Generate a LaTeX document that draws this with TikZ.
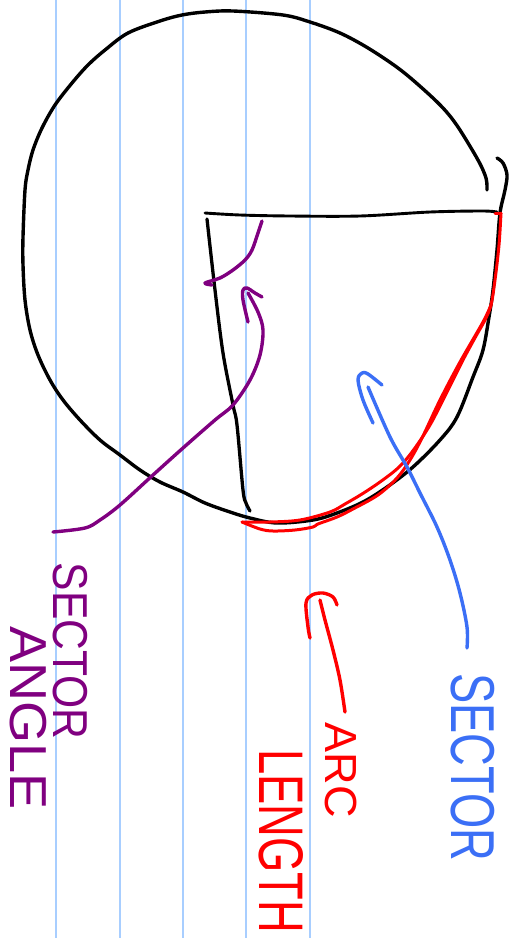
\documentclass[tikz,border=0pt]{standalone}
\usepackage{fontspec}
\usepackage{graphicx}
\setmainfont{Liberation Sans}
\definecolor{ruled}{RGB}{168,206,255}
\definecolor{penblue}{RGB}{59,111,246}
\definecolor{penpurple}{RGB}{128,0,128}
\definecolor{penred}{RGB}{255,0,0}
\tikzset{
  ink/.style={line width=3.4pt, line cap=round, line join=round},
  ruleline/.style={ruled, line width=2pt},
  label/.style={rotate=-90, inner sep=0pt, anchor=center},
  sm/.style={smooth, tension=0.55}
}
\begin{document}
\begin{tikzpicture}[x=1pt,y=-1pt]
\useasboundingbox (0,0) rectangle (517,938);
\fill[white] (0,0) rectangle (517,938);
% notebook lines
\foreach \xx in {56,119.5,183,246,309.5}
  \draw[ruleline] (\xx,0) -- (\xx,938);

% circle (hand drawn, open at upper right)
\draw[ink, black] plot[sm] coordinates {
(487,190) (486,178) (478,160) (458,127) (443,108) (422,88) (398,68) (368,48)
(340,33) (310,22) (283,15) (233,11) (205,12) (182,15) (160,21) (128,33)
(105,50) (88,65) (72,83) (55,105) (42,128) (33,150) (28,170) (25,190)
(23,237) (23,265) (25,300) (30,330) (38,355) (50,380) (63,400) (80,420)
(100,440) (120,455) (140,470) (160,482) (183,492) (205,503) (230,512)
(250,518) (277,523) (313,520) (337,513) (363,502) (387,487) (413,467)
(440,440) (457,417) (473,377) (483,350) (489,317) (493,290) (497,250)
(500,213) (505,190) (507,175) (503,163) (497,158)};

% radii
\draw[line width=2.9pt, line cap=round] plot[sm] coordinates {
(205,213) (240,215) (290,216) (360,216) (430,212) (482,211) (497,212)};
\draw[line width=3.3pt, line cap=round] plot[sm] coordinates {
(207,219) (215,290) (223,353) (233,405) (237,425) (243,490) (246,503) (250,511)};

% red arc length
\draw[ink, penred, line width=3pt] (495,213) -- (501,213);
\draw[ink, penred, line width=3pt] plot[sm] coordinates {
(501,213) (499,245) (495,280) (491,305) (485,320) (476,336) (463,360)
(447,392) (430,425) (412,452) (398,468) (380,482) (362,494) (345,504)
(330,512) (300,520) (270,522) (242,522)};
\draw[ink, penred, line width=3pt] plot[sm] coordinates {
(242,522) (260,529) (273,531) (295,530) (313,527) (318,524) (337,517)
(353,509) (378,495) (397,478) (410,460) (422,438) (440,400) (460,362)
(483,322) (491,305)};

% purple angle arc
\draw[ink, penpurple] plot[sm] coordinates {
(262,221) (258,233) (252,250) (245,260) (233,270) (220,278) (205,283) (212,285)};
% purple arrow
\draw[ink, penpurple] plot[sm] coordinates {
(53,532) (85,528) (100,520) (120,505) (153,475) (183,448) (215,420)
(233,405) (250,380) (260,355) (263,330) (258,312) (248,293)};
\draw[ink, penpurple] plot[sm] coordinates {
(248,322) (243,300) (243,290) (247,288) (255,293) (262,297)};

% blue arrow
\draw[ink, penblue] plot[sm] coordinates {
(467,648) (467,627) (460,593) (450,560) (437,527) (420,493) (407,467)
(390,437) (368,387)};
\draw[ink, penblue] plot[sm] coordinates {
(373,423) (363,400) (358,380) (362,373) (368,374) (382,385)};

% red arrow
\draw[ink, penred] plot[sm] coordinates {
(345,712) (340,680) (333,650) (325,620) (320,600)};
\draw[ink, penred] plot[sm] coordinates {
(337,605) (333,597) (323,593) (312,595) (306,603) (308,627) (310,638)};

% labels
\node[label, penblue, font=\fontsize{62}{62}\selectfont] (sector) at (473,767)
  {\scalebox{0.73}[1]{SECTOR}};
\node[label, penred, font=\fontsize{45}{45}\selectfont] (arc) at (341,770)
  {\scalebox{1.0}[1]{ARC}};
\node[label, penred, font=\fontsize{63}{63}\selectfont] (length) at (281,841)
  {\scalebox{0.72}[1]{LENGTH}};
\node[label, penpurple, font=\fontsize{49}{49}\selectfont] (sangle1) at (70,651)
  {\scalebox{0.87}[1]{SECTOR}};
\node[label, penpurple, font=\fontsize{52}{52}\selectfont] (sangle2) at (28,718)
  {\scalebox{1.04}[1]{ANGLE}};
\end{tikzpicture}
\end{document}
